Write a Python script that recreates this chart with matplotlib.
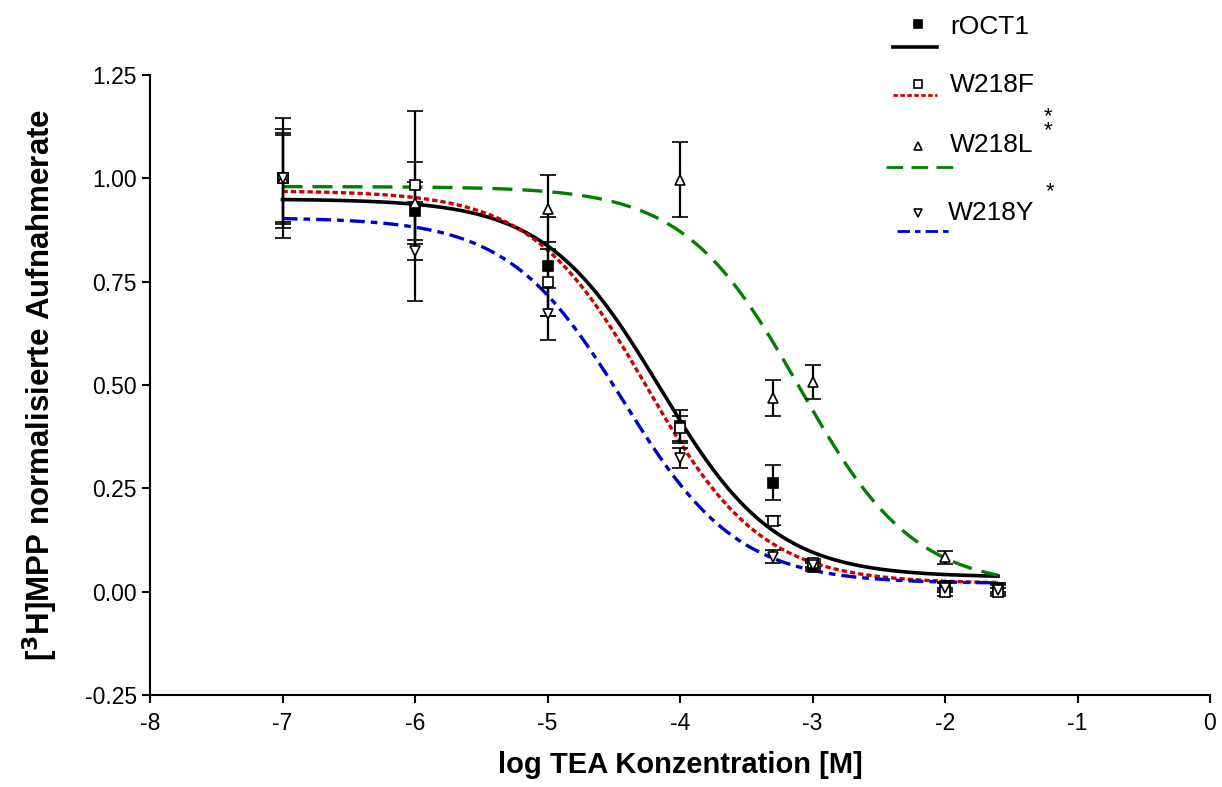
import numpy as np
import matplotlib
matplotlib.use("Agg")
import matplotlib.pyplot as plt
from matplotlib.lines import Line2D

plt.rcParams["font.family"] = ["Liberation Sans", "DejaVu Sans"]
plt.rcParams["axes.unicode_minus"] = False

# log TEA concentrations [M]
log_conc = [-7, -6, -5, -4, -3.3, -3, -2, -1.6]
log_conc_l = [-7, -6, -5, -4, -3.3, -3, -2]

roct1_y = [1.00, 0.92, 0.787, 0.40, 0.264, 0.06, 0.013, 0.01]
roct1_err = [0.145, 0.07, 0.12, 0.04, 0.043, 0.01, 0.01, 0.01]
w218f_y = [1.00, 0.983, 0.748, 0.395, 0.172, 0.07, 0.0, 0.0]
w218f_err = [0.11, 0.18, 0.08, 0.03, 0.01, 0.01, 0.01, 0.01]
w218l_y = [1.00, 0.94, 0.927, 0.997, 0.468, 0.507, 0.083]
w218l_err = [0.12, 0.10, 0.08, 0.09, 0.043, 0.042, 0.015]
w218y_y = [1.00, 0.823, 0.672, 0.323, 0.085, 0.065, 0.01, 0.005]
w218y_err = [0.105, 0.12, 0.063, 0.025, 0.015, 0.01, 0.01, 0.01]

# fitted sigmoid parameters: top, bottom, logIC50
fit_roct1 = (0.95, 0.035, -4.15)
fit_w218f = (0.97, 0.02, -4.25)
fit_w218l = (0.98, 0.01, -3.1)
fit_w218y = (0.905, 0.02, -4.43)

RED_LS = (0, (1.6, 0.9))
GREEN_LS = (0, (6, 3))
BLUE_LS = (0, (4.5, 1.8, 2, 1.8))


def sigmoid(x, top, bottom, logic50):
    return bottom + (top - bottom) / (1 + 10 ** (x - logic50))


fig = plt.figure(figsize=(12.22, 7.87), dpi=100)
ax = fig.add_axes([150 / 1222, 1 - 695 / 787, 1060 / 1222, 620 / 787])

xs = np.linspace(-7, -1.6, 400)
curves = [
    (fit_roct1, "black", "-"),
    (fit_w218f, "#CC0000", RED_LS),
    (fit_w218l, "#008000", GREEN_LS),
    (fit_w218y, "#0000CC", BLUE_LS),
]
for (top, bottom, ic), col, ls in curves:
    ax.plot(xs, sigmoid(xs, top, bottom, ic), color=col, ls=ls,
            lw=2.6 if col == "black" else 2.4, zorder=2)

series = [
    (log_conc, roct1_y, roct1_err, "s", "black"),
    (log_conc, w218f_y, w218f_err, "s", "white"),
    (log_conc_l, w218l_y, w218l_err, "^", "white"),
    (log_conc, w218y_y, w218y_err, "v", "white"),
]
for x, y, e, m, fc in series:
    ax.errorbar(x, y, yerr=e, fmt=m, ms=6.5, mfc=fc, mec="black", mew=1.2,
                ecolor="black", elinewidth=1.6, capsize=6, capthick=1.6,
                zorder=3)

ax.set_xlim(-8, 0)
ax.set_ylim(-0.25, 1.25)
ax.set_xticks(range(-8, 1))
ax.set_yticks([-0.25, 0, 0.25, 0.5, 0.75, 1.0, 1.25])
ax.set_yticklabels(["-0.25", "0.00", "0.25", "0.50", "0.75", "1.00", "1.25"])
ax.spines["top"].set_visible(False)
ax.spines["right"].set_visible(False)
for s in ("left", "bottom"):
    ax.spines[s].set_linewidth(1.5)
ax.tick_params(direction="out", length=6, width=1.5, labelsize=16.5)
ax.tick_params(axis="x", pad=6)
ax.set_xlabel("log TEA Konzentration [M]", fontsize=21, fontweight="bold",
              labelpad=12)
ax.set_ylabel(r"[$^{\mathbf{3}}$H]MPP normalisierte Aufnahmerate", fontsize=22.5,
              fontweight="bold", labelpad=18)

# legend drawn by hand, GraphPad style: marker above, line below
W, H = 1222, 787


def fx(px):
    return px / W


def fy(py):
    return 1 - py / H


legend_rows = [
    ("rOCT1", "s", "black", "black", "-", 24, 47, 893, 937, 950, 27),
    ("W218F", "s", "white", "#CC0000", RED_LS, 84, 95, 893, 937, 950, 85),
    ("W218L", "^", "white", "#008000", GREEN_LS, 146, 167, 886, 953, 950, 145),
    ("W218Y", "v", "white", "#0000CC", BLUE_LS, 213, 231, 897, 952, 948, 213),
]
for name, m, fc, col, ls, my, ly, lx0, lx1, tx, ty in legend_rows:
    fig.add_artist(Line2D([fx(918)], [fy(my)], marker=m, ms=6, mfc=fc,
                          mec="black", mew=1.2, ls="none"))
    fig.add_artist(Line2D([fx(lx0), fx(lx1)], [fy(ly), fy(ly)], color=col,
                          ls=ls, lw=2.6 if col == "black" else 2.0))
    fig.text(fx(tx), fy(ty), name, fontsize=19, va="center", ha="left")

fig.text(fx(1048), fy(124), "*\n*", fontsize=16, ha="center", va="center",
         linespacing=0.55)
fig.text(fx(1050), fy(192), "*", fontsize=16, ha="center", va="center")

fig.savefig("out.png", dpi=100)
